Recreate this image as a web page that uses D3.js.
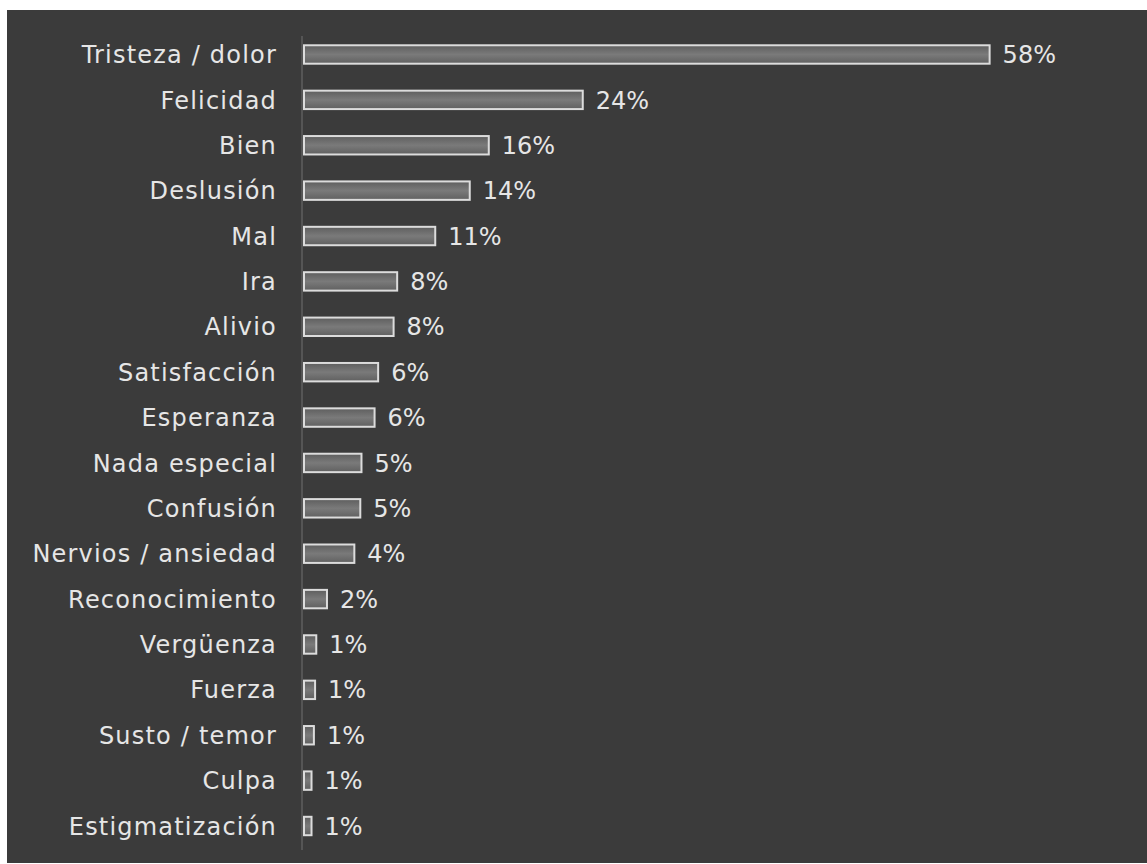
<!DOCTYPE html>
<html>
<head>
<meta charset="utf-8">
<script src="https://cdn.jsdelivr.net/npm/d3@7"></script>
<style>
  html, body { margin: 0; padding: 0; background: #ffffff; }
  svg { display: block; }
</style>
</head>
<body>
<svg id="chart" width="1147" height="864"></svg>
<script>
const categories = [
  "Tristeza / dolor", "Felicidad", "Bien", "Deslusión", "Mal", "Ira", "Alivio",
  "Satisfacción", "Esperanza", "Nada especial", "Confusión", "Nervios / ansiedad",
  "Reconocimiento", "Vergüenza", "Fuerza", "Susto / temor", "Culpa", "Estigmatización"
];
const values = [57.8, 23.6, 15.7, 14.1, 11.2, 8.0, 7.7, 6.4, 6.1, 5.0, 4.9, 4.4, 2.1, 1.2, 1.1, 1.0, 0.8, 0.8];
const valueLabels = ["58%", "24%", "16%", "14%", "11%", "8%", "8%", "6%", "6%", "5%", "5%", "4%", "2%", "1%", "1%", "1%", "1%", "1%"];

const svg = d3.select("#chart");
const W = 1147, H = 864;

// dark panel
svg.append("rect").attr("x", 7).attr("y", 10).attr("width", W - 7).attr("height", H - 11).attr("fill", "#3b3b3b");

const defs = svg.append("defs");
const g = defs.append("linearGradient").attr("id", "barGrad").attr("x1", 0).attr("y1", 0).attr("x2", 0).attr("y2", 1);
g.append("stop").attr("offset", "0%").attr("stop-color", "#5e5e5e");
g.append("stop").attr("offset", "50%").attr("stop-color", "#7a7a7a");
g.append("stop").attr("offset", "100%").attr("stop-color", "#606060");

const x = d3.scaleLinear().domain([0, 58]).range([303, 993]);
const y = d3.scaleBand().domain(categories).range([31.8, 848.7]).paddingInner(0.55).paddingOuter(0.275);

// axis line
svg.append("line").attr("x1", 302).attr("x2", 302).attr("y1", 36).attr("y2", 850)
  .attr("stroke", "#555555").attr("stroke-width", 2);

const rows = svg.selectAll("g.row").data(categories).join("g").attr("class", "row");

rows.append("rect")
  .attr("x", x(0) + 1)
  .attr("y", d => y(d) + 1)
  .attr("width", (d, i) => Math.max(2, x(values[i]) - x(0) - 2))
  .attr("height", y.bandwidth() - 2)
  .attr("fill", "url(#barGrad)")
  .attr("stroke", "#dcdcdc")
  .attr("stroke-width", 2);

rows.append("text")
  .attr("x", 277)
  .attr("y", d => y(d) + y.bandwidth() / 2)
  .attr("dy", "0.36em")
  .attr("text-anchor", "end")
  .attr("font-family", "DejaVu Sans, sans-serif")
  .attr("font-size", 24)
  .attr("letter-spacing", 1.2)
  .attr("fill", "#e6e6e6")
  .text(d => d);

rows.append("text")
  .attr("x", (d, i) => x(values[i]) + 12)
  .attr("y", d => y(d) + y.bandwidth() / 2)
  .attr("dy", "0.36em")
  .attr("font-family", "DejaVu Sans, sans-serif")
  .attr("font-size", 24)
  .attr("fill", "#e6e6e6")
  .text((d, i) => valueLabels[i]);
</script>
</body>
</html>
